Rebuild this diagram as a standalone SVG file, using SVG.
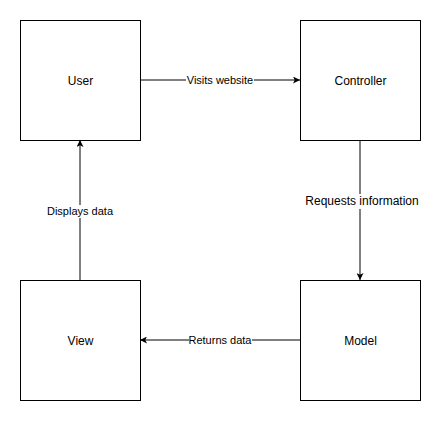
<svg xmlns="http://www.w3.org/2000/svg" width="441" height="421" viewBox="0 0 441 421">
<style>
.box{fill:#fff;stroke:#000;stroke-width:1}
.nt{font-family:"Liberation Sans",Arial,sans-serif;font-size:12px;fill:#000;text-anchor:middle;dominant-baseline:central}
.et{font-family:"Liberation Sans",Arial,sans-serif;font-size:11px;fill:#000;text-anchor:middle;dominant-baseline:central}
.ln{fill:none;stroke:#000;stroke-width:1}
.bg{fill:#fff}
</style>
<defs>
<marker id="ah" viewBox="0 0 10 10" refX="10" refY="5" markerWidth="7" markerHeight="7" markerUnits="userSpaceOnUse" orient="auto">
<path d="M0,0 L10,5 L0,10 L2.5,5 Z" fill="#000"/>
</marker>
</defs>
<rect width="441" height="421" fill="#fff"/>
<g id="connectors">
<path class="ln" d="M140,80 L300,80" marker-end="url(#ah)"/>
<rect class="bg" x="186" y="74" width="68" height="12"/>
<text class="et" x="220" y="80">Visits website</text>
<path class="ln" d="M360,140 L360,280" marker-end="url(#ah)"/>
<rect class="bg" x="304" y="194" width="116" height="15"/>
<text class="et" x="362" y="201" style="font-size:12px">Requests information</text>
<path class="ln" d="M300,340 L140,340" marker-end="url(#ah)"/>
<rect class="bg" x="189" y="334" width="63" height="12"/>
<text class="et" x="220" y="340">Returns data</text>
<path class="ln" d="M80,280 L80,140" marker-end="url(#ah)"/>
<rect class="bg" x="46" y="205" width="67" height="13"/>
<text class="et" x="80" y="211">Displays data</text>
</g>
<g id="user"><rect class="box" x="20.5" y="20.5" width="120" height="120"/><text class="nt" x="80.5" y="80.5">User</text></g>
<g id="controller"><rect class="box" x="300.5" y="20.5" width="120" height="120"/><text class="nt" x="360.5" y="80.5">Controller</text></g>
<g id="view"><rect class="box" x="20.5" y="280.5" width="120" height="120"/><text class="nt" x="80.5" y="340.5">View</text></g>
<g id="model"><rect class="box" x="300.5" y="280.5" width="120" height="120"/><text class="nt" x="360.5" y="340.5">Model</text></g>
</svg>
